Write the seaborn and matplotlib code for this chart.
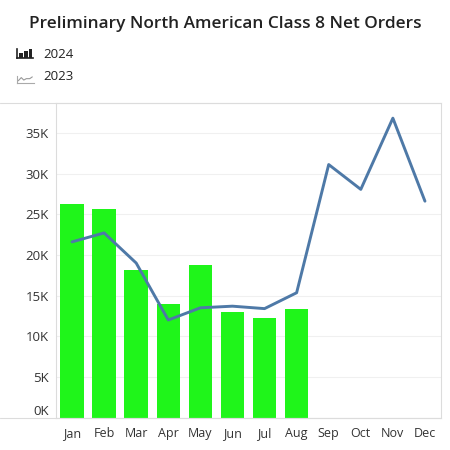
import matplotlib.pyplot as plt
import matplotlib.ticker as mticker
import numpy as np
import pandas as pd
import seaborn as sns

# --- data ---
months = ['Jan', 'Feb', 'Mar', 'Apr', 'May', 'Jun', 'Jul', 'Aug', 'Sep', 'Oct', 'Nov', 'Dec']
orders_2024 = [26300, 25600, 18100, 14000, 18800, 13000, 12300, 13350]
orders_2023 = [21600, 22700, 19000, 12000, 13500, 13700, 13400, 15350, 31100, 28050, 36800, 26600]
y_ticks = [0, 5000, 10000, 15000, 20000, 25000, 30000, 35000]

df24 = pd.DataFrame({'month': months[:len(orders_2024)], 'orders': orders_2024})
df23 = pd.DataFrame({'pos': np.arange(len(months)), 'orders': orders_2023})

sns.set_theme(style="white")
plt.rcParams['font.family'] = ['Open Sans', 'DejaVu Sans']

fig = plt.figure(figsize=(4.5, 4.5), dpi=100)
ax = fig.add_axes([0.1244, 0.0718, 0.98 - 0.1244, 0.7718 - 0.0718])

sns.barplot(data=df24, x='month', y='orders', order=months, color='#1ff51a',
            saturation=1, width=0.73, linewidth=0, ax=ax)
sns.lineplot(data=df23, x='pos', y='orders', color='#4e79a7', linewidth=2.1, ax=ax)

ax.set_xlim(-0.5, len(months) - 0.5)
ax.set_ylim(0, 38700)
ax.set_yticks(y_ticks)
ax.yaxis.set_major_formatter(mticker.FuncFormatter(lambda v, p: f'{int(v / 1000)}K'))
ax.set_xticks(np.arange(len(months)))
ax.set_xticklabels(months)
ax.set_xlabel('')
ax.set_ylabel('')

ax.grid(axis='y', color='#f0f0f0', linewidth=0.8)
ax.set_axisbelow(True)
for s in ax.spines.values():
    s.set_color('#dcdcdc')
    s.set_linewidth(0.8)
ax.tick_params(axis='x', length=0, labelsize=9, colors='#333333', pad=7)
ax.tick_params(axis='y', length=0, labelsize=9.5, colors='#333333', pad=5)
ax.set_xticks(np.arange(len(months)) + 0.5, minor=True)
ax.tick_params(axis='x', which='minor', length=3, color='#eeeeee', width=0.8)
ax.get_yticklabels()[0].set_va('bottom')

# frame lines reaching the left edge (tableau style)
fig.add_artist(plt.Line2D([0, 0.98], [0.7718, 0.7718], color='#dcdcdc', lw=0.8))
fig.add_artist(plt.Line2D([0, 0.98], [0.0718, 0.0718], color='#dcdcdc', lw=0.8))

fig.text(0.5, 1 - 24 / 450, 'Preliminary North American Class 8 Net Orders',
         ha='center', va='center', fontsize=12.4, fontweight='semibold', color='#222222')

# legend
fig.text(43 / 450, 1 - 55 / 450, '2024', ha='left', va='center', fontsize=9.5, color='#222222')
fig.text(43 / 450, 1 - 76 / 450, '2023', ha='left', va='center', fontsize=9.5, color='#222222')

ic1 = fig.add_axes([17 / 450, 1 - 57.5 / 450, 16 / 450, 8.5 / 450])
ic1.bar([0, 1, 2], [0.5, 0.75, 1.0], width=0.75, color='#222222', linewidth=0)
ic1.set_xlim(-0.8, 2.5)
ic1.set_ylim(0, 1)
ic1.set_xticks([]); ic1.set_yticks([])
for k, s in ic1.spines.items():
    s.set_visible(k in ('left', 'bottom'))
    s.set_color('#222222'); s.set_linewidth(1.2)
ic1.patch.set_alpha(0)

ic2 = fig.add_axes([17 / 450, 1 - 82.5 / 450, 17 / 450, 7 / 450])
ic2.plot([0.3, 1, 1.6, 2.2, 3, 3.6], [0.25, 0.7, 0.35, 0.55, 0.55, 0.8], color='#999999', lw=0.8)
ic2.set_xlim(0, 4)
ic2.set_ylim(0, 1)
ic2.set_xticks([]); ic2.set_yticks([])
for k, s in ic2.spines.items():
    s.set_visible(k in ('left', 'bottom'))
    s.set_color('#aaaaaa'); s.set_linewidth(0.8)
ic2.patch.set_alpha(0)

fig.savefig('out.png', dpi=100)
